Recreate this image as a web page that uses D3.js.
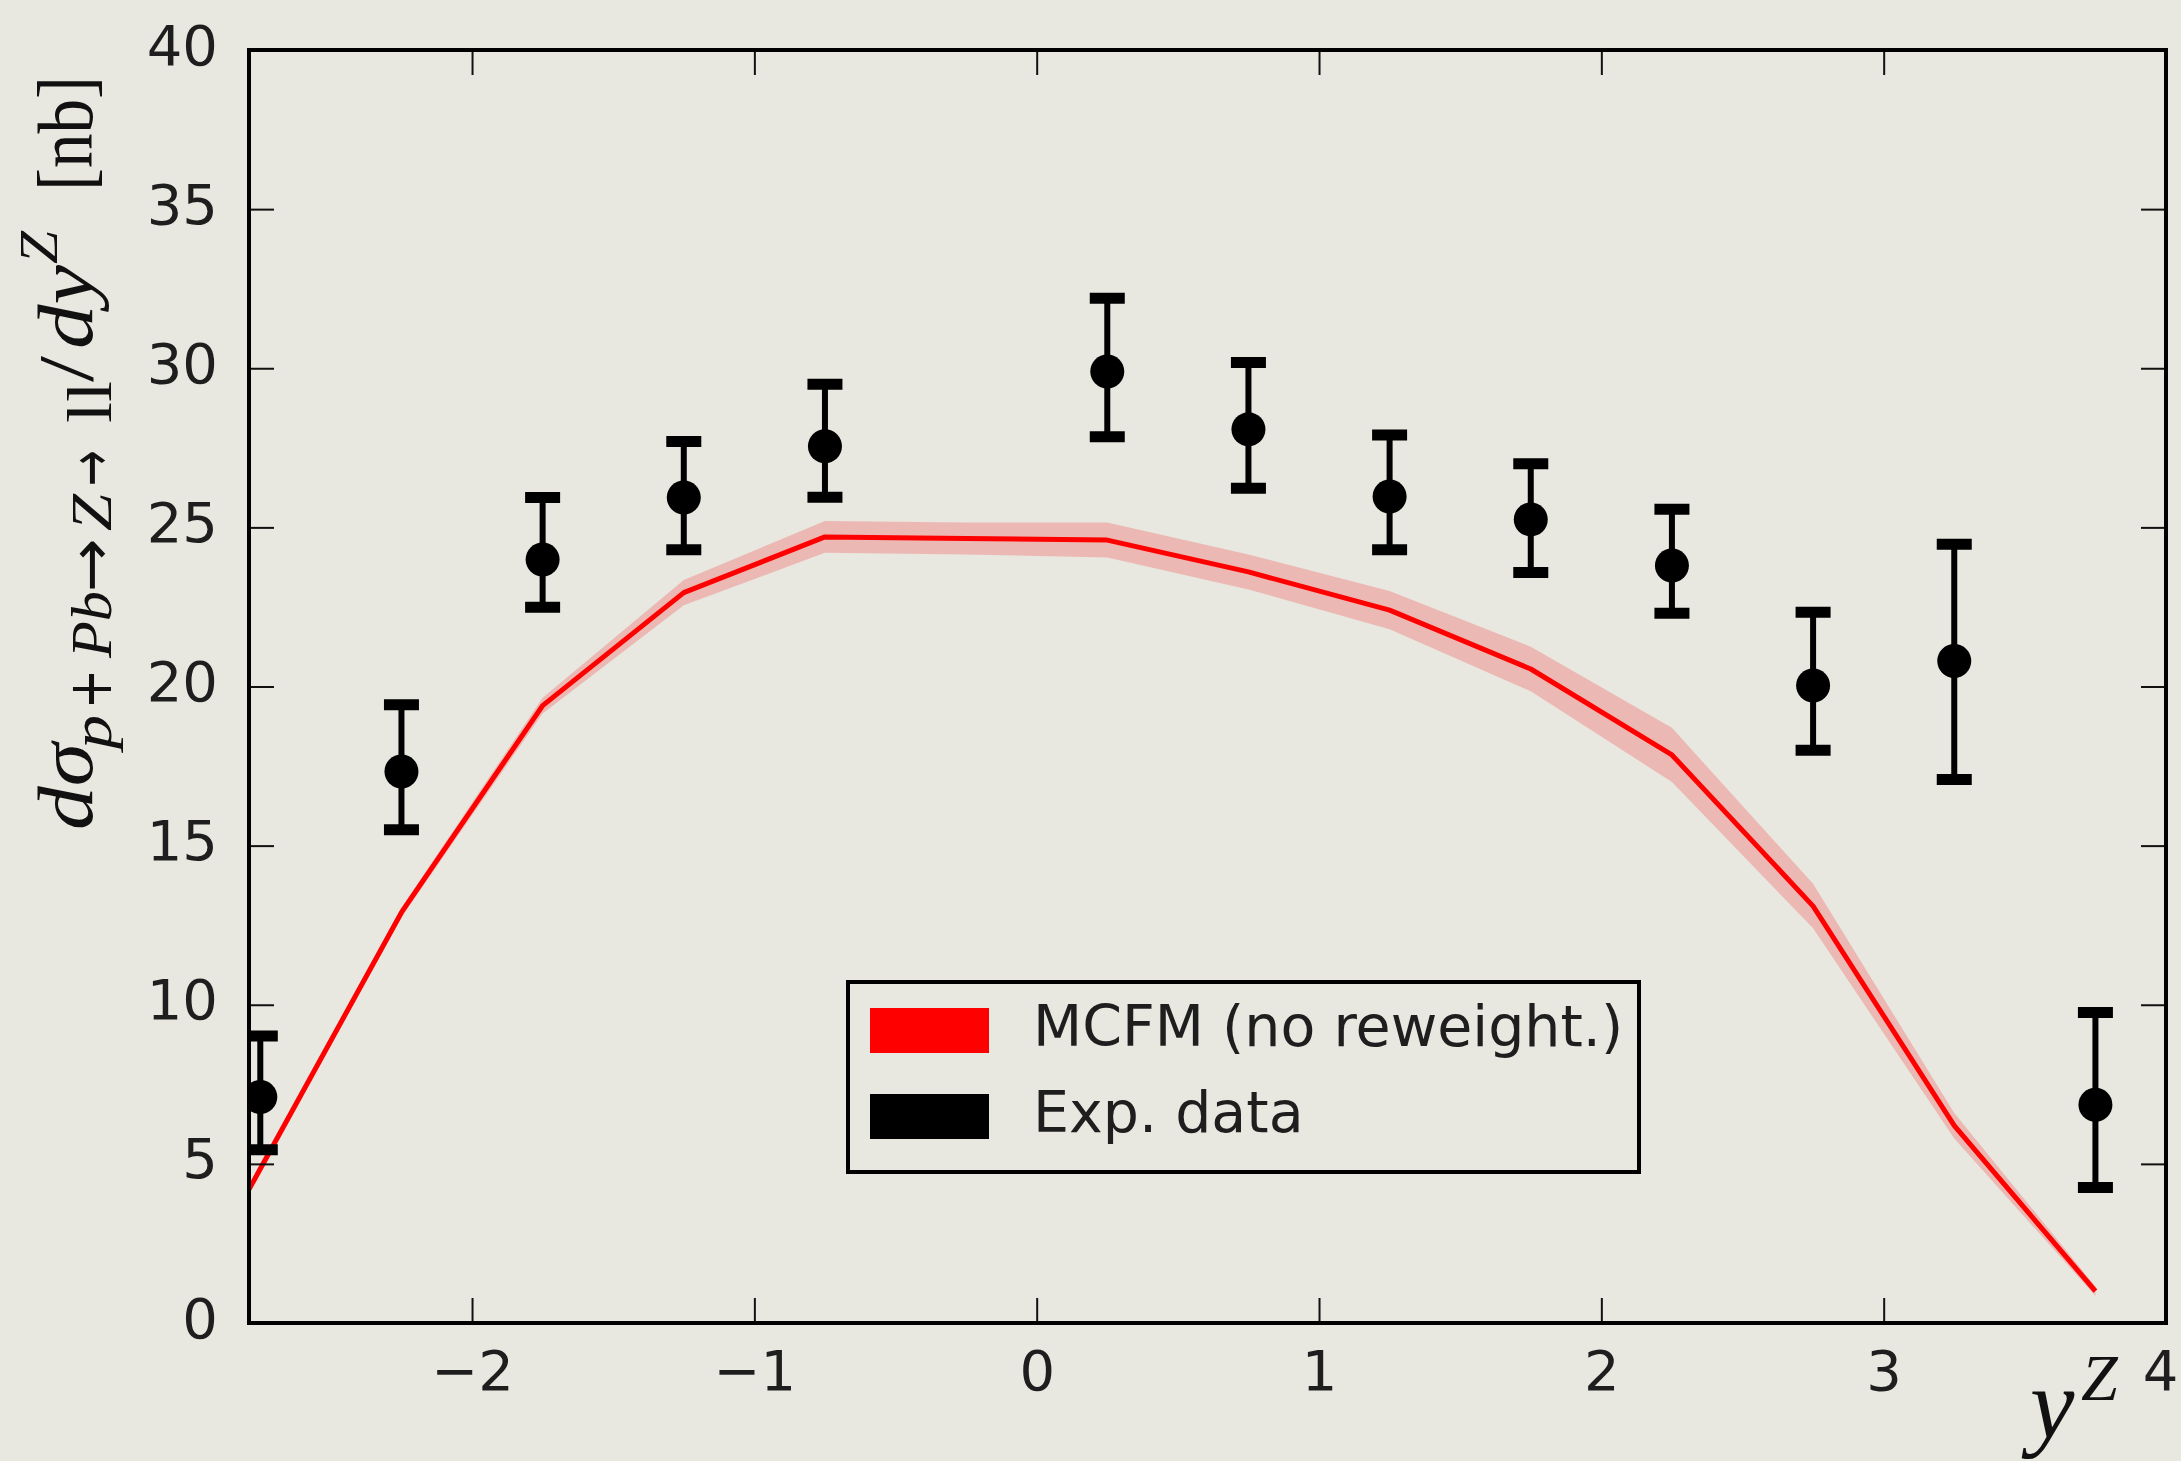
<!DOCTYPE html>
<html>
<head>
<meta charset="utf-8">
<script src="https://cdn.jsdelivr.net/npm/d3@7"></script>
<style>
  body { margin: 0; background: #e8e7e0; }
  svg { display: block; }
</style>
</head>
<body>
<script>
"use strict";

// experimental points
var dataX = [-2.75, -2.25, -1.75, -1.25, -0.75, 0.25, 0.75, 1.25, 1.75, 2.25, 2.75, 3.25, 3.75];
var dataY = [7.1, 17.33, 23.99, 25.94, 27.55, 29.9, 28.08, 25.97, 25.25, 23.8, 20.03, 20.8, 6.86];
var errUp = [1.92, 2.1, 1.95, 1.76, 1.95, 2.3, 2.1, 1.93, 1.75, 1.77, 2.3, 3.67, 2.9];
var errDown = [1.66, 1.83, 1.5, 1.64, 1.6, 2.05, 1.85, 1.67, 1.67, 1.5, 2.03, 3.72, 2.6];

// MCFM prediction and its band
var modelX = [-2.79, -2.25, -1.75, -1.25, -0.75, -0.25, 0.25, 0.75, 1.25, 1.75, 2.25, 2.75, 3.25, 3.75];
var modelY = [4.2, 12.9, 19.4, 22.95, 24.7, 24.65, 24.6, 23.6, 22.4, 20.55, 17.85, 13.1, 6.2, 1.0];
var modelErr = [0.1, 0.15, 0.25, 0.4, 0.5, 0.5, 0.55, 0.55, 0.6, 0.7, 0.85, 0.7, 0.4, 0.15];

var xTicks = [-2, -1, 0, 1, 2, 3, 4];
var yTicks = [0, 5, 10, 15, 20, 25, 30, 35, 40];

var legendLabels = ["MCFM (no reweight.)", "Exp. data"];
var legendColors = ["#ff0000", "#000000"];

function init() {
  var W = 2181;
  var H = 1461;
  var left = 249, right = 2166, top = 50, bottom = 1323;

  var x = d3.scaleLinear().domain([-2.79, 4]).range([left, right]);
  var y = d3.scaleLinear().domain([0, 40]).range([bottom, top]);

  var svg = d3.select("body")
    .append("svg")
    .attr("width", W)
    .attr("height", H);

  svg.append("rect")
    .attr("width", W)
    .attr("height", H)
    .attr("fill", "#e8e7e0");

  svg.append("clipPath")
    .attr("id", "plotclip")
    .append("rect")
    .attr("x", left)
    .attr("y", top)
    .attr("width", right - left)
    .attr("height", bottom - top);

  var model = modelX.map(function (d, i) {
    return { x: d, y: modelY[i], e: modelErr[i] };
  });

  var plot = svg.append("g").attr("clip-path", "url(#plotclip)");

  // band
  plot.append("path")
    .datum(model)
    .attr("d", d3.area()
      .x(function (d) { return x(d.x); })
      .y0(function (d) { return y(d.y - d.e); })
      .y1(function (d) { return y(d.y + d.e); }))
    .attr("fill", "#ff0000")
    .attr("fill-opacity", 0.2);

  plot.append("path")
    .datum(model)
    .attr("d", d3.line()
      .x(function (d) { return x(d.x); })
      .y(function (d) { return y(d.y); }))
    .attr("fill", "none")
    .attr("stroke", "#ff0000")
    .attr("stroke-width", 5)
    .attr("stroke-linejoin", "round");

  // error bars
  var pts = dataX.map(function (d, i) {
    return { x: d, y: dataY[i], up: errUp[i], dn: errDown[i] };
  });

  var bars = plot.selectAll("g.pt")
    .data(pts)
    .enter()
    .append("g")
    .attr("class", "pt");

  bars.append("line")
    .attr("x1", function (d) { return x(d.x); })
    .attr("x2", function (d) { return x(d.x); })
    .attr("y1", function (d) { return y(d.y + d.up); })
    .attr("y2", function (d) { return y(d.y - d.dn); })
    .attr("stroke", "#000")
    .attr("stroke-width", 6);

  [function (d) { return d.y + d.up; }, function (d) { return d.y - d.dn; }].forEach(function (f) {
    bars.append("line")
      .attr("x1", function (d) { return x(d.x) - 17.5; })
      .attr("x2", function (d) { return x(d.x) + 17.5; })
      .attr("y1", function (d) { return y(f(d)); })
      .attr("y2", function (d) { return y(f(d)); })
      .attr("stroke", "#000")
      .attr("stroke-width", 11);
  });

  bars.append("circle")
    .attr("cx", function (d) { return x(d.x); })
    .attr("cy", function (d) { return y(d.y); })
    .attr("r", 17)
    .attr("fill", "#000");

  // axes, ticks pointing inwards on all four sides
  var tickFont = "'DejaVu Sans', sans-serif";
  var fmt = d3.format("d");

  var gx = svg.append("g")
    .attr("transform", "translate(0," + bottom + ")")
    .call(d3.axisBottom(x).tickValues(xTicks).tickFormat(fmt).tickSize(-25).tickSizeOuter(0).tickPadding(27));
  gx.selectAll("text").attr("dy", "0.71em");
  // last label sits on the figure edge
  gx.selectAll("text").filter(function (d) { return d === 4; }).attr("dx", -6);

  var gy = svg.append("g")
    .attr("transform", "translate(" + left + ",0)")
    .call(d3.axisLeft(y).tickValues(yTicks).tickFormat(fmt).tickSize(-25).tickSizeOuter(0).tickPadding(31));
  gy.selectAll("text").attr("dy", "0.25em");

  var gt = svg.append("g")
    .attr("transform", "translate(0," + top + ")")
    .call(d3.axisTop(x).tickValues(xTicks).tickSize(-25).tickSizeOuter(0).tickFormat(""));

  var gr = svg.append("g")
    .attr("transform", "translate(" + right + ",0)")
    .call(d3.axisRight(y).tickValues(yTicks).tickSize(-25).tickSizeOuter(0).tickFormat(""));

  [gx, gy, gt, gr].forEach(function (g) {
    g.select(".domain").remove();
    g.selectAll(".tick line").attr("stroke", "#111").attr("stroke-width", 2);
    g.selectAll(".tick text")
      .attr("fill", "#1e1e1e")
      .style("font-family", tickFont)
      .style("font-size", "56px");
  });

  // frame
  svg.append("rect")
    .attr("x", left)
    .attr("y", top)
    .attr("width", right - left)
    .attr("height", bottom - top)
    .attr("fill", "none")
    .attr("stroke", "#000")
    .attr("stroke-width", 4);

  // x label y^Z
  var serif = "'Liberation Serif', 'DejaVu Serif', serif";
  var xl = svg.append("g").attr("fill", "#111").style("font-family", serif).style("font-style", "italic");
  xl.append("text").attr("x", 2030).attr("y", 1438).style("font-size", "100px").text("y");
  xl.append("text").attr("x", 2081).attr("y", 1400).style("font-size", "66px").text("Z");

  // y label  dσ_{p+Pb→Z→ll}/dy^Z [nb], pieces placed along the rotated baseline
  var yl = svg.append("g")
    .attr("transform", "translate(92,0) rotate(-90)")
    .attr("fill", "#111")
    .style("font-family", serif);

  var pieces = [
    { t: "dσ", u: 830, len: 87, v: 0, s: 78, i: true },
    { t: "p", u: 749, len: 34, v: 19, s: 58, i: true },
    { t: "+", u: 709, len: 40, v: 19, s: 60, i: false, f: tickFont },
    { t: "Pb", u: 658, len: 67, v: 19, s: 58, i: true },
    { t: "→", u: 592, len: 54, v: 19, s: 60, i: false, f: tickFont },
    { t: "Z", u: 531, len: 37, v: 19, s: 58, i: true },
    { t: "→", u: 486, len: 36, v: 19, s: 60, i: false, f: tickFont },
    { t: "ll", u: 423, len: 42, v: 19, s: 64, i: false },
    { t: "/", u: 382, len: 26, v: 0, s: 78, i: false },
    { t: "dy", u: 349, len: 84, v: 0, s: 78, i: true },
    { t: "Z", u: 264, len: 33, v: -35, s: 54, i: true },
    { t: "[nb]", u: 191, len: 115, v: 0, s: 78, i: false }
  ];

  yl.selectAll("text")
    .data(pieces)
    .enter()
    .append("text")
    .attr("x", function (d) { return -d.u; })
    .attr("y", function (d) { return d.v; })
    .attr("textLength", function (d) { return d.len; })
    .attr("lengthAdjust", "spacingAndGlyphs")
    .style("font-family", function (d) { return d.f || serif; })
    .style("font-size", function (d) { return d.s + "px"; })
    .style("font-style", function (d) { return d.i ? "italic" : "normal"; })
    .text(function (d) { return d.t; });

  // legend
  var lg = svg.append("g");
  lg.append("rect")
    .attr("x", 848)
    .attr("y", 982)
    .attr("width", 791)
    .attr("height", 190)
    .attr("fill", "#e8e7e0")
    .attr("stroke", "#000")
    .attr("stroke-width", 4);

  var items = lg.selectAll("g.item")
    .data(legendLabels)
    .enter()
    .append("g")
    .attr("class", "item")
    .attr("transform", function (d, i) { return "translate(0," + (i * 86) + ")"; });

  items.append("rect")
    .attr("x", 870)
    .attr("y", 1008)
    .attr("width", 119)
    .attr("height", 45)
    .attr("fill", function (d, i) { return legendColors[i]; });

  items.append("text")
    .attr("x", 1033)
    .attr("y", 1046)
    .attr("fill", "#1e1e1e")
    .style("font-family", tickFont)
    .style("font-size", "57px")
    .text(function (d) { return d; });
}

window.onload = init;
</script>
</body>
</html>
